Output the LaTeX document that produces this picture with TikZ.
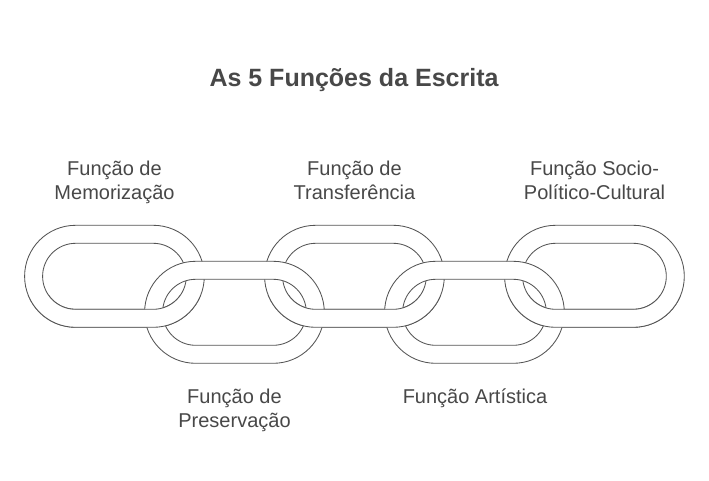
\documentclass[tikz,border=0pt]{standalone}
\usepackage{fontspec}
\setmainfont{Liberation Sans}
\definecolor{ink}{HTML}{555555}
\definecolor{txt}{HTML}{484848}
\newcommand{\linkring}[3]{%
  (#1,#3-51) -- (#2,#3-51) arc[start angle=-90,end angle=90,radius=51] -- (#1,#3+51) arc[start angle=90,end angle=270,radius=51] -- cycle
  (#1,#3-33) -- (#2,#3-33) arc[start angle=-90,end angle=90,radius=33] -- (#1,#3+33) arc[start angle=90,end angle=270,radius=33] -- cycle}
\tikzset{
  x=1pt,y=-1pt,
  ring/.style={draw=ink,line width=0.85pt,fill=white,even odd rule},
  lbl/.style={text=txt,align=center,inner sep=0pt,font=\fontsize{20}{24}\selectfont},
  ttl/.style={text=txt,inner sep=0pt,font=\fontsize{25}{28}\selectfont\bfseries}
}
\begin{document}
\begin{tikzpicture}
\useasboundingbox (0,0) rectangle (709,481);
\fill[white] (0,0) rectangle (709,481);
\draw[ring] \linkring{75.6}{153.3}{276.3};
\draw[ring] \linkring{315.6}{393.3}{276.3};
\draw[ring] \linkring{555.6}{633.3}{276.3};
\draw[ring] \linkring{195.6}{273.3}{312.3};
\draw[ring] \linkring{435.6}{513.3}{312.3};
\begin{scope}
\clip (0,295) rectangle (709,340);
\draw[ring] \linkring{75.6}{153.3}{276.3};
\draw[ring] \linkring{315.6}{393.3}{276.3};
\draw[ring] \linkring{555.6}{633.3}{276.3};
\end{scope}
\node[ttl] (title) at (354,80.5) {As 5 Funções da Escrita};
\node[lbl] (a) at (114.5,182) {Função de\\Memorização};
\node[lbl] (b) at (354.5,180) {Função de\\Transferência};
\node[lbl] (c) at (594.5,180) {Função Socio-\\Político-Cultural};
\node[lbl] (d) at (234.5,410) {Função de\\Preservação};
\node[lbl] (e) at (475,398) {Função Artística};
\end{tikzpicture}
\end{document}
